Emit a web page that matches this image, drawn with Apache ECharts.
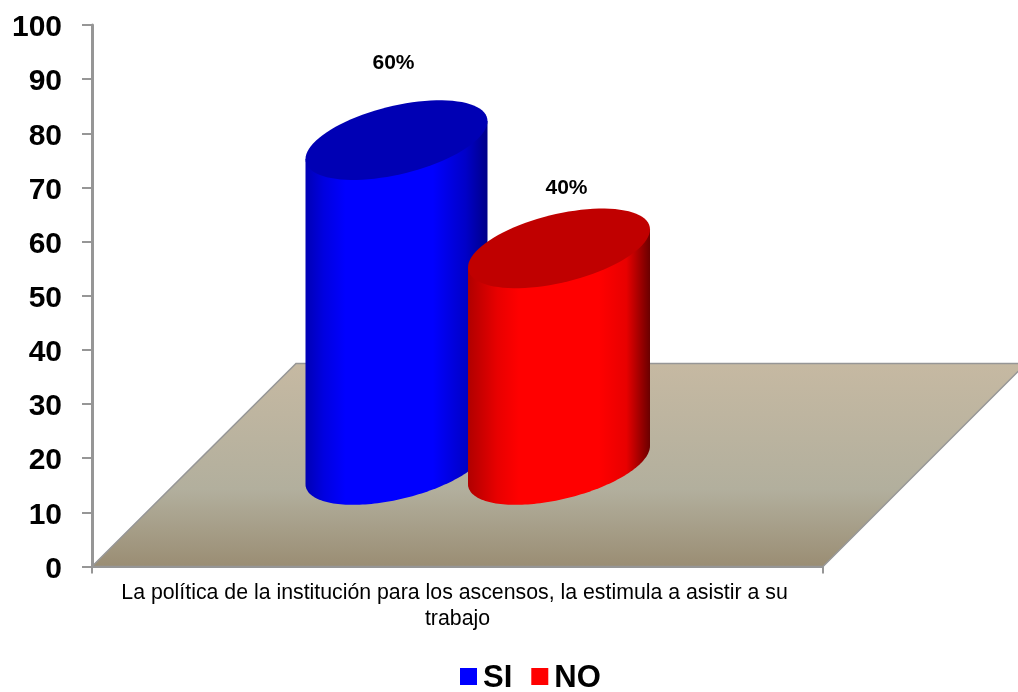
<!DOCTYPE html>
<html>
<head>
<meta charset="utf-8">
<style>html,body{margin:0;padding:0;background:#fff}#chart{width:1018px;height:692px}</style>
<script src="https://cdn.jsdelivr.net/npm/echarts@6/dist/echarts.min.js"></script>
</head>
<body>
<div id="chart"></div>
<script>
const categories = ['La política de la institución para los ascensos, la estimula a asistir a su trabajo'];
const siValues = [60];
const noValues = [40];
const axisMax = 100;
const axisStep = 10;

const FONT = '"Liberation Sans", Arial, sans-serif';
const GRID = { left: 92, top: 25, width: 731, height: 541.5 };
const FLOOR_DEPTH = 203;
const BASE_DEPTH = 101.5;      // how far into the floor the cylinders stand
const SLOT = 162.5;            // horizontal spacing between the two cylinders
const RX = 91, SKEW = 19, RY = 35;   // tilted ellipse of a cylinder cap

const hGrad = stops => ({
  type: 'linear', x: 0, y: 0, x2: 1, y2: 0,
  colorStops: stops.map(([offset, color]) => ({ offset, color }))
});

function ellipse(cx, cy, from, to) {
  const pts = [];
  const n = 90;
  for (let i = 0; i <= n; i++) {
    const t = from + (to - from) * i / n;
    pts.push([cx + RX * Math.cos(t), cy - SKEW * Math.cos(t) + RY * Math.sin(t)]);
  }
  return pts;
}

function cylinderRenderer(slot, look) {
  return function (params, api) {
    const value = api.value(1);
    const top = api.coord([api.value(0), value]);
    const base = api.coord([api.value(0), 0]);
    const cx = top[0] + slot * SLOT + BASE_DEPTH;
    const topY = top[1] - BASE_DEPTH;
    const baseY = base[1] - BASE_DEPTH;
    // Side wall: front half of the base, closed across the top cap
    const wall = ellipse(cx, baseY, 0, Math.PI);
    wall.push([cx - RX, topY + SKEW], [cx + RX, topY - SKEW]);
    return {
      type: 'group',
      children: [
        { type: 'polygon', shape: { points: wall }, style: { fill: look.wall } },
        { type: 'polygon', shape: { points: ellipse(cx, topY, 0, Math.PI * 2) }, style: { fill: look.cap } },
        {
          type: 'text',
          style: {
            x: cx + look.labelDx, y: topY + look.labelDy,
            text: value + '%', fill: '#000', align: 'center', verticalAlign: 'middle',
            font: 'bold 21px ' + FONT
          }
        }
      ]
    };
  };
}

function renderFloor(params, api) {
  const cs = params.coordSys;
  const front = cs.y + cs.height;
  const left = cs.x, right = cs.x + cs.width;
  return {
    type: 'polygon',
    shape: { points: [[left, front], [right, front], [right + FLOOR_DEPTH, front - FLOOR_DEPTH], [left + FLOOR_DEPTH + 1, front - FLOOR_DEPTH]] },
    style: {
      stroke: '#969696', lineWidth: 1.5,
      fill: {
        type: 'linear', x: 0, y: 0, x2: 0, y2: 1,
        colorStops: [
          { offset: 0, color: '#c6b9a2' },
          { offset: 0.62, color: '#b2af9d' },
          { offset: 1, color: '#9a8d73' }
        ]
      }
    }
  };
}

const blueLook = {
  wall: hGrad([[0, '#0000b4'], [0.1, '#0000e0'], [0.22, '#0000ff'], [0.7, '#0000ff'], [0.88, '#0000c8'], [1, '#000088']]),
  cap: '#0000b4', labelDx: -3, labelDy: -77
};
const redLook = {
  wall: hGrad([[0, '#b00000'], [0.16, '#e80000'], [0.28, '#ff0000'], [0.72, '#ff0000'], [0.87, '#e80000'], [1, '#6a0000']]),
  cap: '#c00000', labelDx: 7.5, labelDy: -60
};

const chart = echarts.init(document.getElementById('chart'));
chart.setOption({
  animation: false,
  backgroundColor: '#fff',
  grid: GRID,
  legend: {
    data: ['SI', 'NO'],
    left: 455, top: 654,
    icon: 'rect',
    itemWidth: 17, itemHeight: 17, itemGap: 19,
    selectedMode: false,
    formatter: '{t|{name}}',
    textStyle: {
      rich: {
        t: { fontFamily: FONT, fontWeight: 'bold', fontSize: 31, color: '#000', lineHeight: 34, padding: [4, 0, 0, 1] }
      }
    }
  },
  xAxis: {
    type: 'category',
    data: categories,
    z: 5,
    axisLine: { lineStyle: { color: '#969696', width: 2 } },
    axisTick: { show: true, length: 7, lineStyle: { color: '#969696', width: 2 } },
    axisLabel: {
      color: '#000', fontFamily: FONT, fontSize: 21.3, lineHeight: 26, margin: 14,
      width: 700, overflow: 'break', interval: 0, align: 'center'
    }
  },
  yAxis: {
    type: 'value', min: 0, max: axisMax, interval: axisStep,
    z: 5,
    splitLine: { show: false },
    axisLine: { show: true, lineStyle: { color: '#969696', width: 3 } },
    axisTick: { show: true, length: 10, lineStyle: { color: '#969696', width: 2 } },
    axisLabel: {
      color: '#000', fontFamily: FONT, fontWeight: 'bold', fontSize: 30, margin: 30,
      verticalAlign: 'top', lineHeight: 6
    }
  },
  series: [
    { name: 'floor', type: 'custom', renderItem: renderFloor, data: [[0, 0]], encode: { x: 0, y: 1 }, z: 1, silent: true },
    {
      name: 'SI', type: 'custom', renderItem: cylinderRenderer(-1, blueLook),
      data: siValues.map((v, i) => [i, v]), encode: { x: 0, y: 1 }, z: 2,
      itemStyle: { color: '#0000ff' }
    },
    {
      name: 'NO', type: 'custom', renderItem: cylinderRenderer(0, redLook),
      data: noValues.map((v, i) => [i, v]), encode: { x: 0, y: 1 }, z: 3,
      itemStyle: { color: '#ff0000' }
    }
  ]
});
</script>
</body>
</html>
